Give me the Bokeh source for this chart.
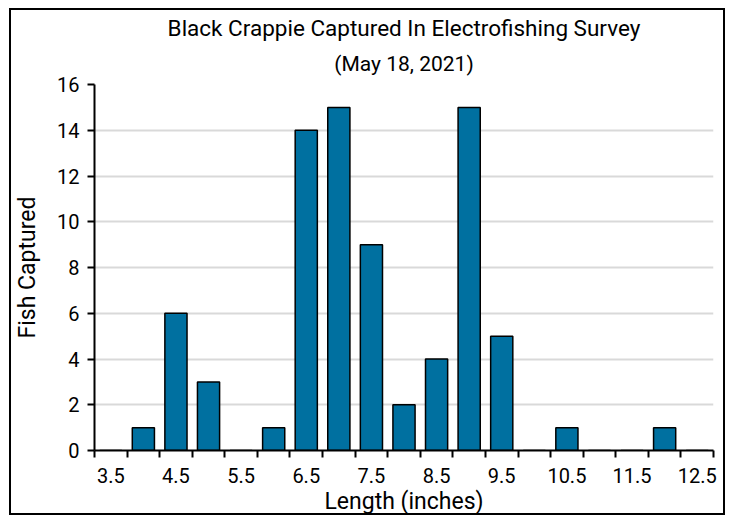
from bokeh.plotting import figure
from bokeh.models import FixedTicker, Title
from bokeh.embed import file_html
from bokeh.resources import INLINE

# Data
lengths = ["3.5", "4.0", "4.5", "5.0", "5.5", "6.0", "6.5", "7.0", "7.5", "8.0",
           "8.5", "9.0", "9.5", "10.0", "10.5", "11.0", "11.5", "12.0", "12.5"]
fish_counts = [0, 1, 6, 3, 0, 1, 14, 15, 9, 2, 4, 15, 5, 0, 1, 0, 0, 1, 0]
y_ticks = [0, 2, 4, 6, 8, 10, 12, 14, 16]
title_text = "Black Crappie Captured In Electrofishing Survey"
subtitle_text = "(May 18, 2021)"

FONT = "Roboto"
BAR_COLOR = "#0070a0"

xs = list(range(len(lengths)))

p = figure(width=716, height=507, output_backend="svg", toolbar_location=None,
           x_range=(-0.5, len(lengths) - 0.5), y_range=(0, 16),
           min_border_left=82, min_border_right=14, min_border_top=74, min_border_bottom=64,
           title=title_text)
p.styles = {"border": "2px solid black", "margin-left": "9px", "margin-top": "8px"}

p.title.align = "center"
p.title.text_font = FONT
p.title.text_font_size = "22.5px"
p.title.text_font_style = "normal"
p.title.text_color = "#000000"
p.title.standoff = 0
p.title.vertical_align = "bottom"
p.add_layout(Title(text=subtitle_text, align="center",
                   text_font=FONT, text_font_size="21px", text_font_style="normal",
                   text_color="#000000", standoff=18, text_line_height=0.8), "above")

p.vbar(x=xs, top=fish_counts, width=0.68, fill_color=BAR_COLOR,
       line_color="black", line_width=1.5)

p.outline_line_color = None
p.xgrid.grid_line_color = None
p.ygrid.grid_line_color = "#d9d9d9"
p.ygrid.grid_line_width = 2

# x axis: ticks at category boundaries, labels on every other category
label_idx = xs[::2]
p.xaxis.ticker = FixedTicker(ticks=label_idx, minor_ticks=[i - 0.5 for i in range(len(lengths) + 1)])
p.xaxis.major_label_overrides = {i: lengths[i] for i in label_idx}
p.xaxis.major_tick_out = 0
p.xaxis.major_tick_in = 0
p.xaxis.minor_tick_out = 7
p.xaxis.minor_tick_in = 0
p.xaxis.minor_tick_line_color = "black"
p.xaxis.minor_tick_line_width = 2
p.xaxis.axis_label = "Length (inches)"
p.xaxis.major_label_standoff = 10
p.xaxis.axis_label_standoff = 2

p.yaxis.ticker = FixedTicker(ticks=y_ticks)
p.yaxis.major_tick_out = 7
p.yaxis.major_tick_in = 0
p.yaxis.minor_tick_line_color = None
p.yaxis.axis_label = "Fish Captured"
p.yaxis.major_label_standoff = 8
p.yaxis.axis_label_standoff = 13

for ax in (p.xaxis[0], p.yaxis[0]):
    ax.axis_line_color = "black"
    ax.axis_line_width = 2
    ax.major_tick_line_color = "black"
    ax.major_tick_line_width = 2
    ax.major_label_text_font = FONT
    ax.major_label_text_font_size = "20px"
    ax.major_label_text_color = "#000000"
    ax.axis_label_text_font = FONT
    ax.axis_label_text_font_size = "23px"
    ax.axis_label_text_font_style = "normal"
    ax.axis_label_text_color = "#000000"

open("out.html", "w").write(file_html(p, INLINE))
